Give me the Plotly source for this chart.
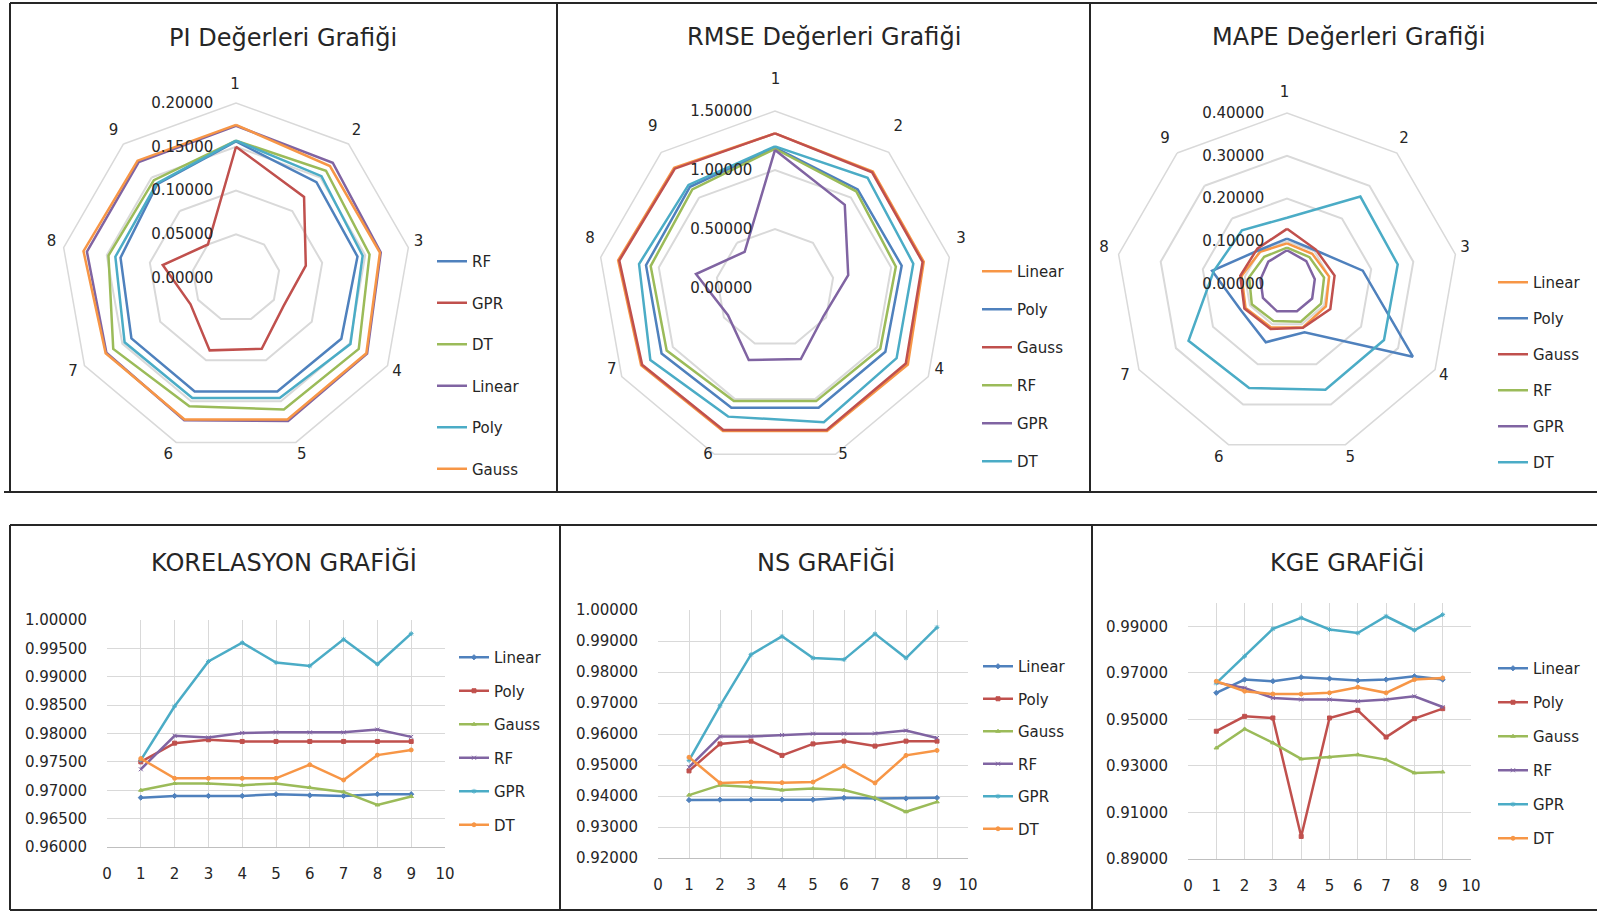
import plotly.graph_objects as go

W, H = 1597, 912
FONT = "DejaVu Sans"
TXT = "#262626"

BLUE, RED, GREEN, PURPLE, AQUA, ORANGE = "#4F81BD", "#C0504D", "#9BBB59", "#8064A2", "#4BACC6", "#F79646"

cats = ["1", "2", "3", "4", "5", "6", "7", "8", "9"]
xs = [1, 2, 3, 4, 5, 6, 7, 8, 9]

# ---------------- PI radar (legend order: RF, GPR, DT, Linear, Poly, Gauss)
pi_rf     = [0.156, 0.143, 0.141, 0.139, 0.138, 0.138, 0.138, 0.134, 0.140]
pi_gpr    = [0.150, 0.121, 0.081, 0.063, 0.086, 0.088, 0.060, 0.085, 0.050]
pi_dt     = [0.157, 0.160, 0.155, 0.162, 0.160, 0.156, 0.162, 0.148, 0.146]
pi_linear = [0.174, 0.172, 0.168, 0.173, 0.174, 0.173, 0.171, 0.173, 0.173]
pi_poly   = [0.157, 0.152, 0.147, 0.151, 0.146, 0.146, 0.147, 0.140, 0.141]
pi_gauss  = [0.175, 0.167, 0.167, 0.172, 0.172, 0.172, 0.172, 0.177, 0.175]

# ---------------- RMSE radar (Linear, Poly, Gauss, RF, GPR, DT)
rmse_linear = [1.31, 1.29, 1.28, 1.30, 1.29, 1.29, 1.31, 1.35, 1.33]
rmse_poly   = [1.19, 1.09, 1.09, 1.08, 1.08, 1.08, 1.11, 1.11, 1.12]
rmse_gauss  = [1.31, 1.28, 1.27, 1.28, 1.28, 1.28, 1.30, 1.34, 1.32]
rmse_rf     = [1.18, 1.07, 1.04, 1.03, 1.02, 1.02, 1.06, 1.07, 1.09]
rmse_gpr    = [1.17, 0.92, 0.63, 0.475, 0.64, 0.65, 0.46, 0.68, 0.40]
rmse_dt     = [1.20, 1.22, 1.19, 1.19, 1.21, 1.16, 1.22, 1.17, 1.14]

# ---------------- MAPE radar (Linear, Poly, Gauss, RF, GPR, DT)
mape_linear = [0.095, 0.092, 0.100, 0.105, 0.108, 0.108, 0.112, 0.108, 0.098]
mape_poly   = [0.106, 0.103, 0.180, 0.340, 0.120, 0.145, 0.124, 0.178, 0.103]
mape_gauss  = [0.129, 0.105, 0.113, 0.117, 0.109, 0.112, 0.115, 0.111, 0.108]
mape_rf     = [0.085, 0.082, 0.088, 0.092, 0.094, 0.092, 0.095, 0.090, 0.083]
mape_gpr    = [0.079, 0.070, 0.066, 0.068, 0.068, 0.068, 0.065, 0.063, 0.068]
mape_dt     = [0.155, 0.267, 0.263, 0.262, 0.263, 0.259, 0.266, 0.174, 0.164]

# ---------------- KORELASYON (Linear, Poly, Gauss, RF, GPR, DT)
kor_linear = [0.9687, 0.9690, 0.9690, 0.9690, 0.9693, 0.9691, 0.9690, 0.9693, 0.9693]
kor_poly   = [0.9750, 0.9783, 0.9789, 0.9786, 0.9786, 0.9786, 0.9786, 0.9786, 0.9786]
kor_gauss  = [0.9700, 0.9712, 0.9712, 0.9709, 0.9712, 0.9705, 0.9697, 0.9674, 0.9689]
kor_rf     = [0.9737, 0.9796, 0.9793, 0.9801, 0.9802, 0.9802, 0.9802, 0.9807, 0.9794]
kor_gpr    = [0.9753, 0.9848, 0.9927, 0.9960, 0.9925, 0.9919, 0.9966, 0.9922, 0.9976]
kor_dt     = [0.9756, 0.9721, 0.9721, 0.9721, 0.9721, 0.9745, 0.9718, 0.9762, 0.9771]

# ---------------- NS
ns_linear = [0.9387, 0.9388, 0.9388, 0.9388, 0.9388, 0.9394, 0.9392, 0.9392, 0.9394]
ns_poly   = [0.9481, 0.9568, 0.9577, 0.9531, 0.9568, 0.9577, 0.9561, 0.9577, 0.9577]
ns_gauss  = [0.9403, 0.9435, 0.9429, 0.9419, 0.9424, 0.9419, 0.9394, 0.9349, 0.9381]
ns_rf     = [0.9493, 0.9592, 0.9592, 0.9597, 0.9601, 0.9601, 0.9602, 0.9611, 0.9587]
ns_gpr    = [0.9515, 0.9691, 0.9856, 0.9915, 0.9845, 0.9840, 0.9923, 0.9845, 0.9944]
ns_dt     = [0.9525, 0.9442, 0.9445, 0.9443, 0.9445, 0.9497, 0.9442, 0.9531, 0.9547]

# ---------------- KGE
kge_linear = [0.9614, 0.9671, 0.9664, 0.9681, 0.9675, 0.9667, 0.9671, 0.9685, 0.9671]
kge_poly   = [0.9449, 0.9513, 0.9506, 0.8997, 0.9506, 0.9539, 0.9424, 0.9503, 0.9546]
kge_gauss  = [0.9377, 0.9459, 0.9399, 0.9330, 0.9338, 0.9348, 0.9327, 0.9270, 0.9274]
kge_rf     = [0.9659, 0.9635, 0.9592, 0.9585, 0.9585, 0.9578, 0.9585, 0.9599, 0.9553]
kge_gpr    = [0.9656, 0.9771, 0.9889, 0.9936, 0.9886, 0.9871, 0.9943, 0.9883, 0.9950]
kge_dt     = [0.9664, 0.9621, 0.9609, 0.9609, 0.9614, 0.9638, 0.9614, 0.9671, 0.9678]

fig = go.Figure()


def px_x(v):
    return v / W


def px_y(v):
    return 1 - v / H


def add_radar(series, polar_id, legend_id, tag):
    for name, vals, color in series:
        fig.add_trace(go.Scatterpolar(
            r=vals + [vals[0]], theta=cats + [cats[0]], mode="lines", name=name,
            line=dict(color=color, width=2.5), subplot=polar_id, legend=legend_id,
            legendgroup=tag + name))


def add_label_ring(polar_id):
    # invisible trace that only carries the category labels 1..9 of a radar
    fig.add_trace(go.Scatterpolar(
        r=[0] * len(cats), theta=cats, mode="lines", showlegend=False,
        hoverinfo="skip", line=dict(width=0, color="rgba(0,0,0,0)"), subplot=polar_id))


def add_lines(series, xa, ya, legend_id, tag):
    syms = ["diamond", "square", "triangle-up", "x-thin-open", "asterisk-open", "circle"]
    for (name, vals, color), sym in zip(series, syms):
        fig.add_trace(go.Scatter(
            x=xs, y=vals, mode="lines+markers", name=name,
            line=dict(color=color, width=2.5),
            marker=dict(symbol=sym, size=4, color=color, line=dict(color=color, width=1)),
            xaxis=xa, yaxis=ya, legend=legend_id, legendgroup=tag + name))


add_radar([("RF", pi_rf, BLUE), ("GPR", pi_gpr, RED), ("DT", pi_dt, GREEN),
           ("Linear", pi_linear, PURPLE), ("Poly", pi_poly, AQUA), ("Gauss", pi_gauss, ORANGE)],
          "polar", "legend", "pi")
add_radar([("Linear", rmse_linear, ORANGE), ("Poly", rmse_poly, BLUE), ("Gauss", rmse_gauss, RED),
           ("RF", rmse_rf, GREEN), ("GPR", rmse_gpr, PURPLE), ("DT", rmse_dt, AQUA)],
          "polar2", "legend2", "rmse")
add_radar([("Linear", mape_linear, ORANGE), ("Poly", mape_poly, BLUE), ("Gauss", mape_gauss, RED),
           ("RF", mape_rf, GREEN), ("GPR", mape_gpr, PURPLE), ("DT", mape_dt, AQUA)],
          "polar3", "legend3", "mape")
add_label_ring("polar4")
add_label_ring("polar5")
add_label_ring("polar6")

line_cols = [BLUE, RED, GREEN, PURPLE, AQUA, ORANGE]
names = ["Linear", "Poly", "Gauss", "RF", "GPR", "DT"]
add_lines(list(zip(names, [kor_linear, kor_poly, kor_gauss, kor_rf, kor_gpr, kor_dt], line_cols)),
          "x", "y", "legend4", "kor")
add_lines(list(zip(names, [ns_linear, ns_poly, ns_gauss, ns_rf, ns_gpr, ns_dt], line_cols)),
          "x2", "y2", "legend5", "ns")
add_lines(list(zip(names, [kge_linear, kge_poly, kge_gauss, kge_rf, kge_gpr, kge_dt], line_cols)),
          "x3", "y3", "legend6", "kge")

tickfont = dict(family=FONT, size=15, color=TXT)


def dom(cx, cy, R):
    return dict(x=[px_x(cx - R), px_x(cx + R)], y=[px_y(cy + R), px_y(cy - R)])


def polar_cfg(cx, cy, R, rmax, dtick):
    return dict(
        domain=dom(cx, cy, R), gridshape="linear", bgcolor="rgba(0,0,0,0)",
        radialaxis=dict(range=[0, rmax], tick0=0, dtick=dtick, tickformat=".5f",
                        angle=90, tickangle=90, side="counterclockwise",
                        showline=False, gridcolor="#D9D9D9", gridwidth=1.5,
                        tickfont=tickfont, ticks="outside", ticklen=17,
                        tickcolor="rgba(0,0,0,0)"),
        angularaxis=dict(type="category", categoryarray=cats, rotation=90,
                         direction="clockwise", showgrid=False, showline=True,
                         linecolor="#D9D9D9", linewidth=1.5, showticklabels=False, ticks=""),
    )


def label_polar_cfg(cx, cy, R):
    return dict(
        domain=dom(cx, cy, R), gridshape="linear", bgcolor="rgba(0,0,0,0)",
        radialaxis=dict(visible=False, range=[0, 1]),
        angularaxis=dict(type="category", categoryarray=cats, rotation=90,
                         direction="clockwise", showgrid=False, showline=False,
                         tickfont=tickfont, ticks="outside", ticklen=8,
                         tickcolor="rgba(0,0,0,0)"),
    )


def legend_cfg(xt, y0, gap):
    return dict(x=px_x(xt - 40), y=px_y(y0 - 12), xanchor="left", yanchor="top",
                bgcolor="rgba(0,0,0,0)", font=dict(family=FONT, size=15, color=TXT),
                tracegroupgap=gap, traceorder="grouped")


def xaxis_cfg(x0, x1, anchor):
    return dict(domain=[px_x(x0), px_x(x1)], range=[0, 10], tick0=0, dtick=1,
                showgrid=True, gridcolor="#D9D9D9", gridwidth=1, zeroline=False,
                showline=True, linecolor="#BFBFBF", linewidth=1,
                ticks="outside", ticklen=13, tickcolor="rgba(0,0,0,0)",
                tickfont=tickfont, anchor=anchor)


def yaxis_cfg(top, bottom, rng, tick0, dtick, anchor):
    return dict(domain=[px_y(bottom), px_y(top)], range=rng, tick0=tick0, dtick=dtick,
                tickformat=".5f", showgrid=True, gridcolor="#D9D9D9", gridwidth=1,
                zeroline=False, showline=False,
                ticks="outside", ticklen=16, tickcolor="rgba(0,0,0,0)",
                tickfont=tickfont, anchor=anchor)


titles = [("PI Değerleri Grafiği", 283, 38), ("RMSE Değerleri Grafiği", 824, 37),
          ("MAPE Değerleri Grafiği", 1348, 37), ("KORELASYON GRAFİĞİ", 284, 562),
          ("NS GRAFİĞİ", 826, 562), ("KGE GRAFİĞİ", 1347, 562)]
annotations = [dict(text=t, x=px_x(x), y=px_y(y), xref="paper", yref="paper",
                    xanchor="center", yanchor="middle", showarrow=False,
                    font=dict(family=FONT, size=24, color=TXT)) for t, x, y in titles]

BORDER = dict(color="#262626", width=2)


def hline(x0, x1, y):
    return dict(type="line", xref="paper", yref="paper", x0=px_x(x0), x1=px_x(x1),
                y0=px_y(y), y1=px_y(y), line=BORDER)


def vline(x, y0, y1):
    return dict(type="line", xref="paper", yref="paper", x0=px_x(x), x1=px_x(x),
                y0=px_y(y0), y1=px_y(y1), line=BORDER)


shapes = [
    hline(10, W + 5, 3), hline(4, W + 5, 492), vline(10, 3, 492), vline(557, 3, 492),
    vline(1090, 3, 492),
    hline(10, W + 5, 525), hline(10, W + 5, 910), vline(10, 525, 910), vline(560, 525, 910),
    vline(1092, 525, 910),
]

fig.update_layout(
    width=W, height=H, margin=dict(l=0, r=0, t=0, b=0, autoexpand=False),
    paper_bgcolor="white", plot_bgcolor="white", showlegend=True,
    polar=polar_cfg(236, 278, 175, 0.2, 0.05),
    polar2=polar_cfg(775, 288, 177, 1.5, 0.5),
    polar3=polar_cfg(1287, 284, 171, 0.4, 0.1),
    polar4=label_polar_cfg(235, 273, 170),
    polar5=label_polar_cfg(775.5, 270.3, 172),
    polar6=label_polar_cfg(1284.5, 278.5, 167),
    xaxis=xaxis_cfg(107, 445, "y"), yaxis=yaxis_cfg(620, 847, [0.96, 1.0], 0.96, 0.005, "x"),
    xaxis2=xaxis_cfg(658, 968, "y2"), yaxis2=yaxis_cfg(610, 858, [0.92, 1.0], 0.92, 0.01, "x2"),
    xaxis3=xaxis_cfg(1188, 1471, "y3"), yaxis3=yaxis_cfg(603, 859, [0.89, 1.0], 0.89, 0.02, "x3"),
    legend=legend_cfg(472, 257, 19),
    legend2=legend_cfg(1017, 267, 15.5),
    legend3=legend_cfg(1533, 278, 13.5),
    legend4=legend_cfg(494, 653, 11),
    legend5=legend_cfg(1018, 662, 10),
    legend6=legend_cfg(1533, 664, 11.5),
    annotations=annotations, shapes=shapes,
)

fig.write_html("out.html")
